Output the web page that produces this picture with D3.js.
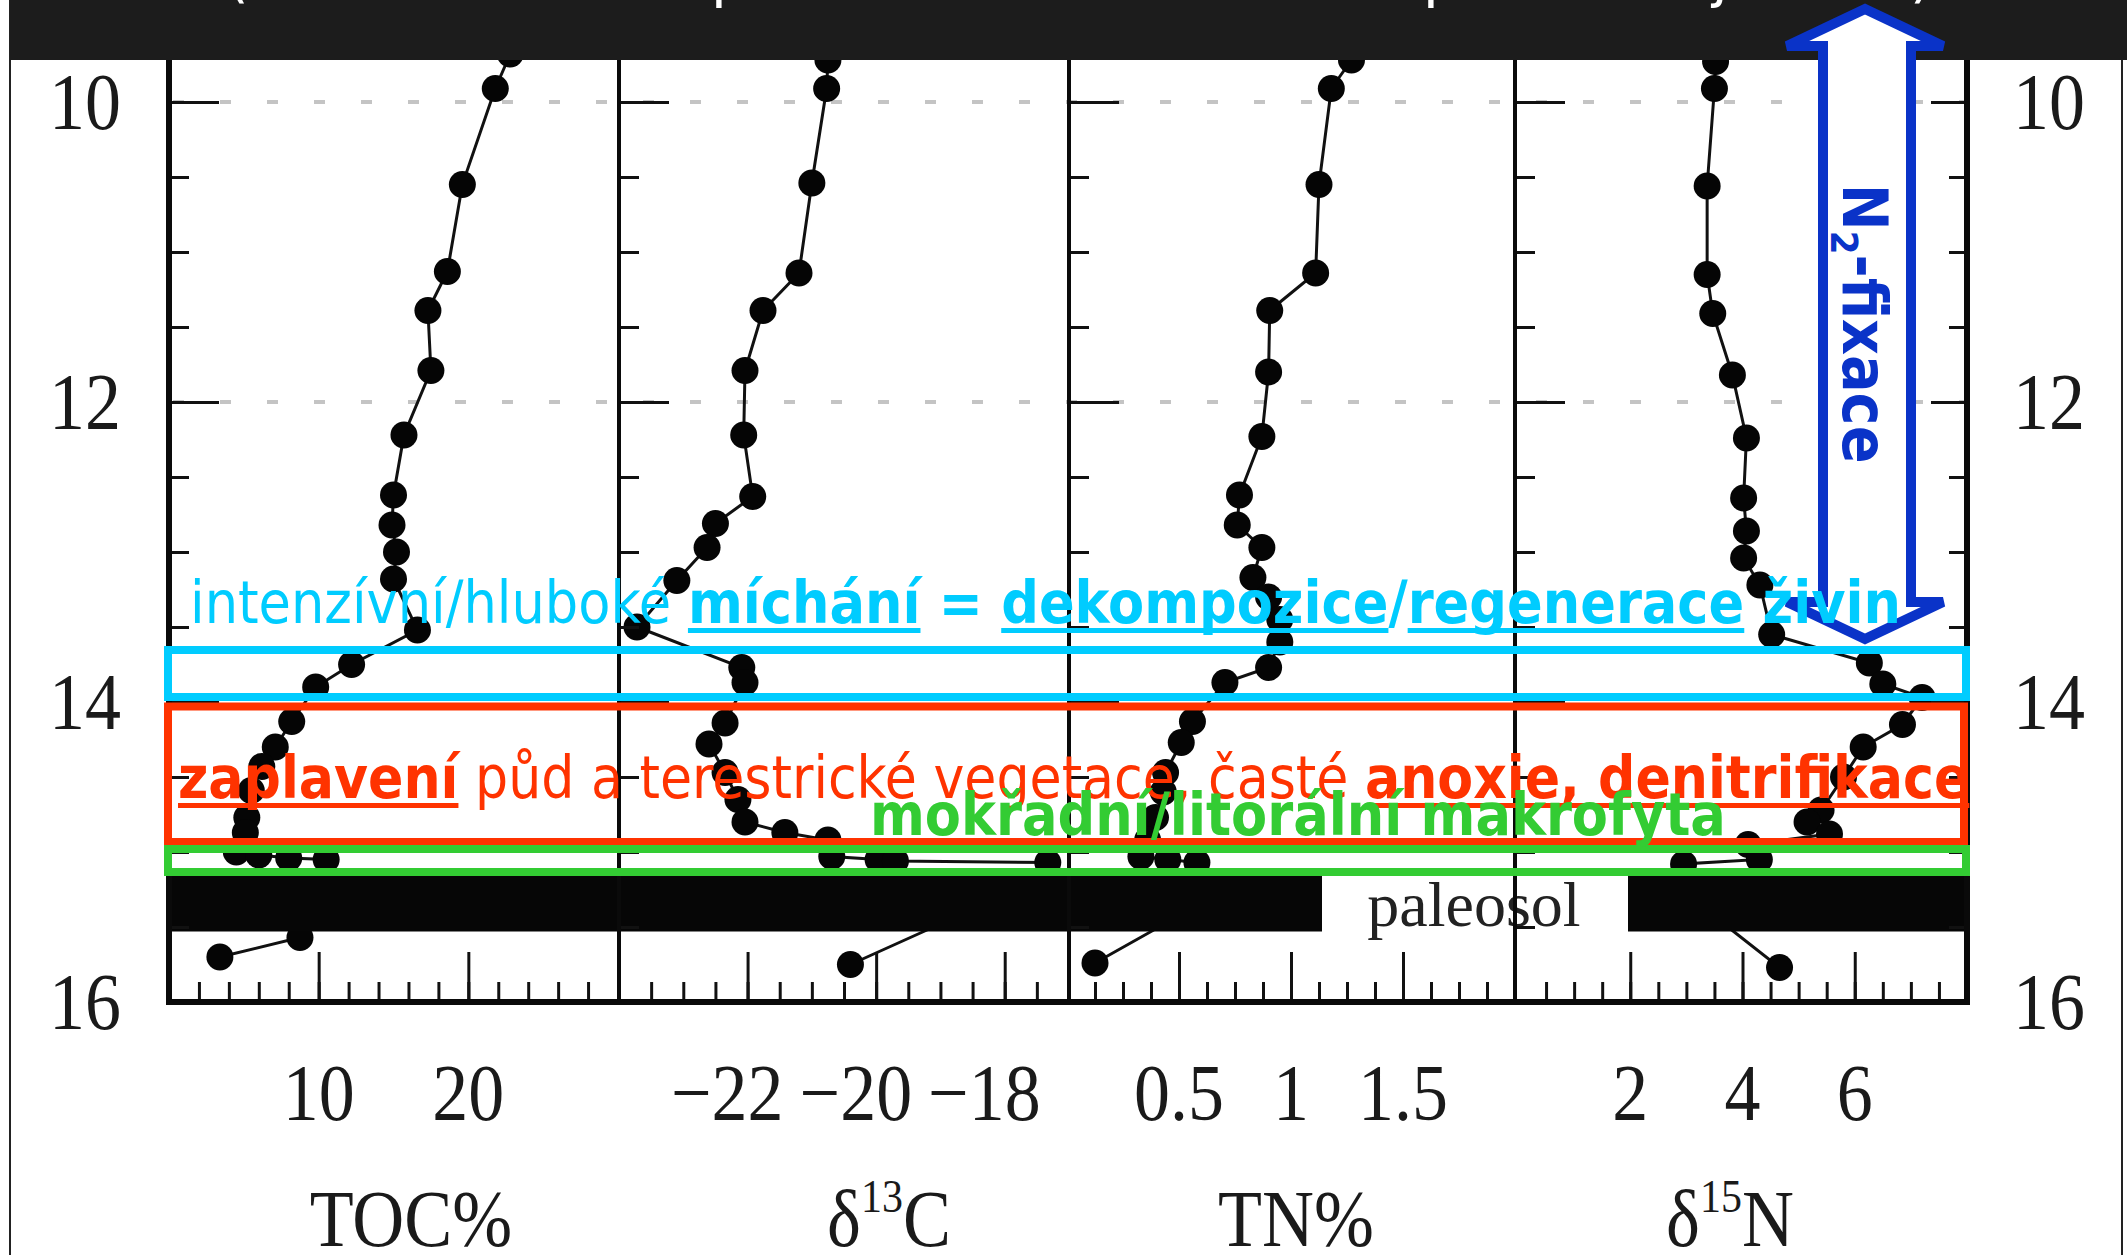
<!DOCTYPE html>
<html><head><meta charset="utf-8">
<script src="https://cdn.jsdelivr.net/npm/d3@7"></script>
<style>html,body{margin:0;padding:0;background:#fff;overflow:hidden}</style>
</head><body>
<svg id="chart" width="2127" height="1255" xmlns="http://www.w3.org/2000/svg"></svg>
<script>
// ---------- data (depth in m, value) ----------
const tocDepth = [9.68, 9.91, 10.55, 11.13, 11.39, 11.79, 12.22, 12.62, 12.82, 13.0, 13.18, 13.52, 13.75, 13.9, 14.13, 14.3, 14.43, 14.59, 14.77, 14.87, 15.0, 15.02, 15.04, 15.05, 15.57, 15.7];
const tocValue = [22.8, 21.8, 19.6, 18.6, 17.3, 17.5, 15.7, 15.0, 14.9, 15.2, 15.0, 16.6, 12.2, 9.8, 8.2, 7.1, 6.2, 5.5, 5.2, 5.1, 4.5, 6.0, 8.0, 10.5, 8.75, 3.4];

const d13cDepth = [9.72, 9.91, 10.54, 11.14, 11.39, 11.79, 12.22, 12.63, 12.81, 12.97, 13.19, 13.5, 13.77, 13.87, 14.14, 14.28, 14.47, 14.65, 14.8, 14.87, 14.92, 15.03, 15.05, 15.06, 15.07, 15.35, 15.75];
const d13cValue = [-20.75, -20.77, -21.0, -21.2, -21.76, -22.04, -22.06, -21.92, -22.5, -22.63, -23.1, -23.72, -22.09, -22.04, -22.35, -22.6, -22.35, -22.15, -22.04, -21.42, -20.75, -20.69, -19.97, -19.7, -17.33, -18.33, -20.4];

const tnDepth = [9.72, 9.91, 10.55, 11.14, 11.39, 11.8, 12.23, 12.62, 12.82, 12.97, 13.17, 13.3, 13.45, 13.6, 13.77, 13.87, 14.13, 14.27, 14.47, 14.6, 14.77, 14.92, 15.03, 15.05, 15.07, 15.35, 15.74];
const tnValue = [1.27, 1.18, 1.125, 1.11, 0.905, 0.9, 0.87, 0.77, 0.76, 0.87, 0.83, 0.9, 0.95, 0.95, 0.9, 0.705, 0.56, 0.51, 0.44, 0.43, 0.395, 0.36, 0.33, 0.45, 0.58, 0.59, 0.125];

const d15nDepth = [9.73, 9.91, 10.56, 11.15, 11.41, 11.82, 12.24, 12.64, 12.86, 13.04, 13.22, 13.55, 13.74, 13.88, 13.97, 14.15, 14.3, 14.5, 14.72, 14.8, 14.88, 14.95, 15.05, 15.08, 15.35, 15.77];
const d15nValue = [3.52, 3.5, 3.37, 3.37, 3.47, 3.82, 4.07, 4.02, 4.07, 4.02, 4.31, 4.52, 6.26, 6.5, 7.2, 6.85, 6.15, 5.8, 5.4, 5.15, 5.55, 4.1, 4.3, 2.95, 3.23, 4.66];

// ---------- tick labels / names ----------
const panelTitles = ["TOC%", "δ13C", "TN%", "δ15N"];
const tocTicks = [10, 20];
const d13cTicks = [-22, -20, -18];
const tnTicks = [0.5, 1, 1.5];
const d15nTicks = [2, 4, 6];
const depthTicks = [10, 12, 14, 16];
const gridDepths = [10, 12];
const paleosolDepth = [15.15, 15.53];

const svg = d3.select("#chart");
const y = d3.scaleLinear().domain([10, 16]).range([102, 1002]);

const panels = [
  {x: d3.scaleLinear().domain([0, 30]).range([169, 618]), depth: tocDepth, value: tocValue, ticks: tocTicks,
   minor: d3.range(2, 30, 2), fmt: d => String(d), anchor: "middle", title: panelTitles[0], tx: 411},
  {x: d3.scaleLinear().domain([-24, -17]).range([619, 1069]), depth: d13cDepth, value: d13cValue, ticks: d13cTicks,
   minor: d3.range(-23.5, -17, 0.5), fmt: d => "−" + Math.abs(d), anchor: "end", off: 36, title: panelTitles[1], tx: 889},
  {x: d3.scaleLinear().domain([0, 2]).range([1067, 1515]), depth: tnDepth, value: tnValue, ticks: tnTicks,
   minor: d3.range(0.125, 2, 0.125), fmt: d => String(d), anchor: "middle", title: panelTitles[2], tx: 1296},
  {x: d3.scaleLinear().domain([0, 8]).range([1518, 1967]), depth: d15nDepth, value: d15nValue, ticks: d15nTicks,
   minor: d3.range(0.5, 8, 0.5), fmt: d => String(d), anchor: "middle", title: panelTitles[3], tx: 1730}
];

const left = 169, right = 1967, bottom = y(16);
const dividers = [619, 1069, 1515];

// clip
svg.append("defs").append("clipPath").attr("id", "plotclip")
  .append("rect").attr("x", left).attr("y", 0).attr("width", right - left).attr("height", bottom);

// left & right page borders
svg.append("line").attr("x1", 10).attr("x2", 10).attr("y1", 0).attr("y2", 1255).attr("stroke", "#222").attr("stroke-width", 2);
svg.append("line").attr("x1", 2122).attr("x2", 2122).attr("y1", 0).attr("y2", 1255).attr("stroke", "#222").attr("stroke-width", 2);

// gridlines
svg.append("g").selectAll("line").data(gridDepths).join("line")
  .attr("x1", left + 4).attr("x2", right).attr("y1", d => y(d)).attr("y2", d => y(d))
  .attr("stroke", "#c4c4c4").attr("stroke-width", 4).attr("stroke-dasharray", "11 36");

// data
const plot = svg.append("g").attr("clip-path", "url(#plotclip)");
panels.forEach(p => {
  const pts = p.depth.map((d, i) => ({d: d, v: p.value[i]}));
  plot.append("path").datum(pts)
    .attr("d", d3.line().x(q => p.x(q.v)).y(q => y(q.d)))
    .attr("fill", "none").attr("stroke", "#111").attr("stroke-width", 3);
  plot.append("g").selectAll("circle").data(pts).join("circle")
    .attr("cx", q => p.x(q.v)).attr("cy", q => y(q.d)).attr("r", 13.5).attr("fill", "#050505");
});

// paleosol band
const pTop = y(paleosolDepth[0]), pBot = y(paleosolDepth[1]);
svg.append("rect").attr("x", left).attr("y", pTop).attr("width", 1322 - left).attr("height", pBot - pTop).attr("fill", "#060606");
svg.append("rect").attr("x", 1628).attr("y", pTop).attr("width", right - 1628).attr("height", pBot - pTop).attr("fill", "#060606");
svg.append("rect").attr("x", 1322).attr("y", pTop).attr("width", 1628 - 1322).attr("height", pBot - pTop).attr("fill", "#fff");
svg.append("text").attr("x", 1474).attr("y", 926).attr("text-anchor", "middle")
  .attr("font-family", "'Liberation Serif', serif").attr("font-size", 64).attr("fill", "#222").text("paleosol");

// y axes ticks
const yMinor = d3.range(9.5, 16, 0.5);
const yMajor = [10, 12, 14];
[left].concat(dividers).forEach(xp => {
  const g1 = svg.append("g").attr("transform", `translate(${xp},0)`).call(d3.axisRight(y).tickValues(yMinor).tickSize(20).tickFormat(""));
  const g2 = svg.append("g").attr("transform", `translate(${xp},0)`).call(d3.axisRight(y).tickValues(yMajor).tickSize(50).tickFormat(""));
  [g1, g2].forEach(g => { g.select(".domain").remove(); g.selectAll("line").attr("stroke", "#111").attr("stroke-width", 3); });
});
{
  const g1 = svg.append("g").attr("transform", `translate(${right},0)`).call(d3.axisLeft(y).tickValues(yMinor).tickSize(18).tickFormat(""));
  const g2 = svg.append("g").attr("transform", `translate(${right},0)`).call(d3.axisLeft(y).tickValues(yMajor).tickSize(36).tickFormat(""));
  [g1, g2].forEach(g => { g.select(".domain").remove(); g.selectAll("line").attr("stroke", "#111").attr("stroke-width", 3); });
}

// bottom axes ticks
panels.forEach(p => {
  const g1 = svg.append("g").attr("transform", `translate(0,${bottom})`).call(d3.axisTop(p.x).tickValues(p.minor).tickSize(20).tickFormat(""));
  const g2 = svg.append("g").attr("transform", `translate(0,${bottom})`).call(d3.axisTop(p.x).tickValues(p.ticks).tickSize(50).tickFormat(""));
  [g1, g2].forEach(g => { g.select(".domain").remove(); g.selectAll("line").attr("stroke", "#111").attr("stroke-width", 3); });
});

// frame
const frame = svg.append("g").attr("stroke", "#0a0a0a");
frame.append("line").attr("x1", left).attr("x2", left).attr("y1", 0).attr("y2", bottom + 2).attr("stroke-width", 6);
frame.append("line").attr("x1", right).attr("x2", right).attr("y1", 0).attr("y2", bottom + 2).attr("stroke-width", 6);
dividers.forEach(xp => frame.append("line").attr("x1", xp).attr("x2", xp).attr("y1", 0).attr("y2", bottom).attr("stroke-width", 4));
frame.append("line").attr("x1", left - 3).attr("x2", right + 3).attr("y1", bottom).attr("y2", bottom).attr("stroke-width", 6);

// serif labels
function serif(x, yy, str, anchor) {
  return svg.append("text").attr("transform", `translate(${x},${yy}) scale(1,1.12)`)
    .attr("text-anchor", anchor).attr("font-family", "'Liberation Serif', serif").attr("font-size", 72).attr("fill", "#1a1a1a").text(str);
}
depthTicks.forEach(d => { serif(85, y(d) + 27, String(d), "middle"); serif(2049, y(d) + 27, String(d), "middle"); });
panels.forEach(p => {
  p.ticks.forEach(t => serif(p.x(t) + (p.off || 0), 1120, p.fmt(t), p.anchor));
});
// panel titles
serif(panels[0].tx, 1246, panels[0].title, "middle");
serif(panels[2].tx, 1246, panels[2].title, "middle");
[[1, "δ", "13", "C"], [3, "δ", "15", "N"]].forEach(([i, a, s, b]) => {
  const t = serif(panels[i].tx, 1246, "", "middle");
  t.append("tspan").text(a);
  t.append("tspan").attr("font-size", 42).attr("dy", -30).text(s);
  t.append("tspan").attr("dy", 30).text(b);
});

// title bar
svg.append("rect").attr("x", 10).attr("y", 0).attr("width", 2117).attr("height", 60).attr("fill", "#1c1c1c");
[["(", 226], ["p", 711], ["p", 1423], ["j", 1712], [")", 1910]].forEach(([c, xx]) => {
  svg.append("text").attr("x", xx).attr("y", -4).attr("font-family", "'DejaVu Sans', sans-serif").attr("font-size", 58).attr("fill", "#fff").text(c);
});

// blue double arrow
const blue = "#0a33c8";
svg.append("path")
  .attr("d", "M1865,9 L1943,46 L1911,46 L1911,602 L1943,602 L1865,639 L1787,602 L1823,602 L1823,46 L1787,46 Z")
  .attr("fill", "#fff").attr("stroke", blue).attr("stroke-width", 10).attr("stroke-linejoin", "miter");
{
  const t = svg.append("text").attr("transform", "translate(1843,184) rotate(90)")
    .attr("font-family", "'DejaVu Sans Condensed', 'DejaVu Sans', sans-serif").attr("font-stretch", "condensed")
    .attr("font-weight", "bold").attr("font-size", 62).attr("fill", blue);
  t.append("tspan").text("N");
  t.append("tspan").attr("font-size", 38).attr("dy", 12).text("2");
  t.append("tspan").attr("dy", -12).text("-fixace");
}

// boxes
const boxes = [
  {x0: 168, x1: 1966, y0: 650, y1: 697, c: "#00ccff"},
  {x0: 168, x1: 1964, y0: 706.5, y1: 842, c: "#ff3300"},
  {x0: 168, x1: 1966, y0: 849, y1: 872, c: "#33cc33"}
];
svg.append("g").selectAll("rect").data(boxes).join("rect")
  .attr("x", b => b.x0).attr("y", b => b.y0).attr("width", b => b.x1 - b.x0).attr("height", b => b.y1 - b.y0)
  .attr("fill", "none").attr("stroke", b => b.c).attr("stroke-width", 8);

// annotation texts
function segments(segs, x0, base, color, size) {
  let x = x0;
  segs.forEach(s => {
    const t = svg.append("text").attr("x", x).attr("y", base)
      .attr("font-family", "'DejaVu Sans Condensed', 'DejaVu Sans', sans-serif").attr("font-stretch", "condensed")
      .attr("font-size", size).attr("font-weight", s.b ? "bold" : "normal").attr("fill", color)
      .style("white-space", "pre").text(s.t);
    const w = t.node().getComputedTextLength();
    if (s.u) svg.append("rect").attr("x", x).attr("y", base + 5).attr("width", w).attr("height", 5).attr("fill", color);
    x += w;
  });
}
segments([
  {t: "intenzívní/hluboké "}, {t: "míchání", b: 1, u: 1}, {t: " = ", b: 1}, {t: "dekompozice", b: 1, u: 1},
  {t: "/", b: 1}, {t: "regenerace", b: 1, u: 1}, {t: " živin", b: 1}
], 190, 623, "#00ccff", 58.5);
segments([
  {t: "zaplavení", b: 1, u: 1}, {t: " půd a terestrické vegetace, časté "}, {t: "anoxie, denitrifikace", b: 1, u: 1}
], 178, 798, "#ff3300", 58);
segments([{t: "mokřadní/litorální makrofyta", b: 1}], 870, 835, "#33cc33", 58.5);
</script>
</body></html>
